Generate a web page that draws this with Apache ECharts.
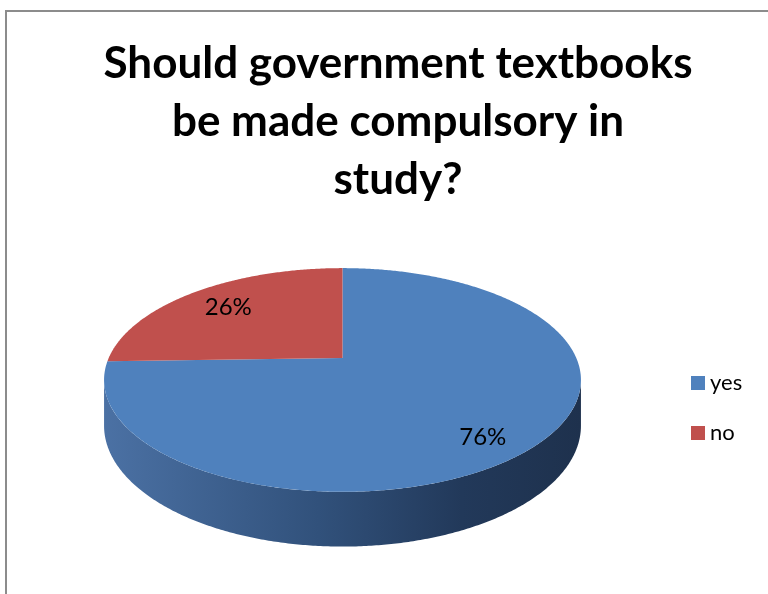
<!DOCTYPE html>
<html>
<head>
<meta charset="utf-8">
<script src="https://cdn.jsdelivr.net/npm/echarts@6/dist/echarts.min.js"></script>
<style>
  html, body { margin: 0; padding: 0; background: #ffffff; }
  #chart { width: 768px; height: 594px; }
</style>
</head>
<body>
<div id="chart"></div>
<script>
// Survey answers and their shares (percent labels as printed)
const categories = ['yes', 'no'];
const shares = [76, 26];
const sliceColors = ['#4f81bd', '#c0504d'];
// Side-wall shading per slice, lit on the left and falling off to the right
const sideShades = [
  ['#4b71a4', '#31517b', '#22395a', '#1e314d'],
  ['#a9443f', '#83332f', '#632725', '#552120']
];
const titleText = 'Should government textbooks\nbe made compulsory in\nstudy?';

const total = shares.reduce((a, b) => a + b, 0);

// Tilted-disc projection used for the 3D pie
const pie = {
  cx: 342.5, cy: 358,   // projected centre of the top face
  R: 233.8,             // radius in screen units
  tilt: 0.46,           // vertical squash of the disc
  persp: 0.1964,        // perspective strength (near edge larger)
  depth: 44             // thickness of the disc
};

function project(a, f, drop) {
  const X = Math.sin(a) * f;
  const Z = -Math.cos(a) * f;
  const w = 1 - pie.persp * Z;
  return [pie.cx + pie.R * X / w, pie.cy + (pie.R * pie.tilt * Z + drop) / w];
}

function makeRenderer(idx) {
  return function (params, api) {
    const before = shares.slice(0, idx).reduce((a, b) => a + b, 0);
    const v = api.value(0);
    const a0 = before / total * Math.PI * 2;
    const a1 = (before + v) / total * Math.PI * 2;
    const step = Math.PI / 360;
    const children = [];

    // visible part of the outer wall lies between the two silhouette angles
    const visL = Math.acos(-pie.persp);
    const visR = Math.PI * 2 - visL;
    const s0 = Math.max(a0, visL), s1 = Math.min(a1, visR);
    if (s1 > s0) {
      const topPts = [], botPts = [];
      for (let a = s0; a < s1; a += step) {
        topPts.push(project(a, 1, 0));
        botPts.push(project(a, 1, pie.depth));
      }
      topPts.push(project(s1, 1, 0));
      botPts.push(project(s1, 1, pie.depth));
      const shade = sideShades[idx];
      children.push({
        type: 'polygon',
        z2: 1,
        shape: { points: topPts.concat(botPts.reverse()) },
        style: {
          fill: {
            type: 'linear', x: 0, y: 0, x2: 1, y2: 0,
            colorStops: [
              { offset: 0, color: shade[0] },
              { offset: 0.45, color: shade[1] },
              { offset: 0.75, color: shade[2] },
              { offset: 1, color: shade[3] }
            ]
          }
        }
      });
    }

    // top face of the slice
    const facePts = [[pie.cx, pie.cy]];
    for (let a = a0; a < a1; a += step) facePts.push(project(a, 1, 0));
    facePts.push(project(a1, 1, 0));
    children.push({
      type: 'polygon',
      z2: 2,
      shape: { points: facePts },
      style: { fill: sliceColors[idx] }
    });

    // percentage label near the middle of the slice
    const mid = (a0 + a1) / 2;
    const lp = project(mid, 0.75, pie.depth * 0.5 * Math.max(0, -Math.cos(mid)));
    children.push({
      type: 'text',
      z2: 3,
      x: lp[0], y: lp[1],
      style: {
        text: v + '%',
        fill: '#000000',
        font: '24px Lato, "Open Sans", sans-serif',
        align: 'center',
        verticalAlign: 'middle'
      }
    });

    return { type: 'group', children: children };
  };
}

const chart = echarts.init(document.getElementById('chart'), null, { renderer: 'canvas' });

chart.setOption({
  animation: false,
  backgroundColor: '#ffffff',
  title: {
    text: titleText,
    left: 393,
    top: 30,
    textAlign: 'center',
    textStyle: {
      fontFamily: 'Lato, "Open Sans", sans-serif',
      fontWeight: 'bold',
      fontSize: 44,
      lineHeight: 58,
      color: '#000000'
    }
  },
  legend: {
    orient: 'vertical',
    left: 691,
    top: 372,
    padding: 0,
    itemWidth: 14,
    itemHeight: 14,
    itemGap: 28,
    icon: 'rect',
    data: categories,
    textStyle: {
      fontFamily: 'Lato, "Open Sans", sans-serif',
      fontSize: 22,
      color: '#000000'
    },
    selectedMode: false
  },
  graphic: [{
    type: 'rect',
    silent: true,
    shape: { x: 6, y: 11, width: 820, height: 700 },
    style: { fill: 'none', stroke: '#8c8c8c', lineWidth: 2 }
  }],
  series: categories.map((name, i) => ({
    type: 'custom',
    name: name,
    coordinateSystem: 'none',
    itemStyle: { color: sliceColors[i] },
    renderItem: makeRenderer(i),
    data: [[shares[i]]]
  }))
});
</script>
</body>
</html>
